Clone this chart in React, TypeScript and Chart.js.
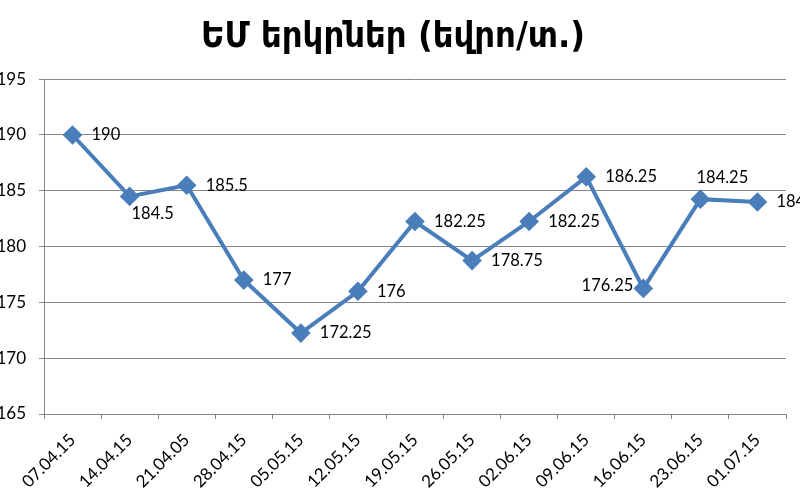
import React, { useEffect, useRef } from "react";
import { Chart, registerables } from "chart.js";

Chart.register(...registerables);

const TITLE = "ԵՄ երկրներ (եվրո/տ.)";
const categories = [
  "07.04.15", "14.04.15", "21.04.05", "28.04.15", "05.05.15", "12.05.15", "19.05.15",
  "26.05.15", "02.06.15", "09.06.15", "16.06.15", "23.06.15", "01.07.15",
];
const prices = [190, 184.5, 185.5, 177, 172.25, 176, 182.25, 178.75, 182.25, 186.25, 176.25, 184.25, 184];
const labelPlacement = [
  "right", "below", "right", "right", "right", "right", "right",
  "right", "right", "right", "left", "above", "right",
];
const yMin = 165;
const yMax = 195;
const yStep = 5;

const LINE_COLOR = "#4A7EBB";
const AXIS_COLOR = "#868686";
const LABEL_FONT = "16.5px Lato";

const PLACEMENTS: Record<string, { dx: number; dy: number; align: CanvasTextAlign }> = {
  right: { dx: 19, dy: 0, align: "left" },
  below: { dx: 23, dy: 17, align: "center" },
  left: { dx: -10, dy: -3, align: "right" },
  above: { dx: 22, dy: -21, align: "center" },
};

const dataLabelPlugin = {
  id: "pointValueLabels",
  afterDatasetsDraw(chart: any) {
    const meta = chart.getDatasetMeta(0);
    const ctx = chart.ctx;
    ctx.save();
    ctx.font = LABEL_FONT;
    ctx.fillStyle = "#000";
    ctx.textBaseline = "middle";
    meta.data.forEach((pt: any, i: number) => {
      const p = PLACEMENTS[labelPlacement[i]] || PLACEMENTS.right;
      ctx.textAlign = p.align;
      ctx.fillText(String(prices[i]), pt.x + p.dx, pt.y + p.dy);
    });
    ctx.restore();
  },
};

export default function App() {
  const ref = useRef<HTMLCanvasElement | null>(null);

  useEffect(() => {
    document.body.style.margin = "0";
    if (!ref.current) return;
    const chart = new Chart(ref.current, {
      type: "line",
      data: {
        labels: categories,
        datasets: [
          {
            data: prices,
            borderColor: LINE_COLOR,
            backgroundColor: LINE_COLOR,
            borderWidth: 4,
            pointStyle: "rectRot",
            pointRadius: 7,
            pointHoverRadius: 7,
            pointBackgroundColor: LINE_COLOR,
            pointBorderColor: LINE_COLOR,
            tension: 0,
            fill: false,
          },
        ],
      },
      options: {
        animation: false,
        responsive: true,
        maintainAspectRatio: false,
        devicePixelRatio: 1,
        layout: { padding: { left: 0, right: 14, top: 0, bottom: 0 } },
        plugins: {
          legend: { display: false },
          tooltip: { enabled: false },
          title: {
            display: true,
            text: TITLE,
            color: "#000",
            font: { family: "'DejaVu Sans Condensed', 'DejaVu Sans'", weight: "bold", size: 36 },
            padding: { top: 16, bottom: 20 },
          },
        },
        scales: {
          x: {
            type: "category",
            offset: true,
            afterFit: (s: any) => { s.height = 90; },
            grid: {
              display: true,
              offset: true,
              drawOnChartArea: false,
              drawTicks: true,
              tickLength: 5,
              color: AXIS_COLOR,
            },
            border: { display: true, color: AXIS_COLOR, width: 1 },
            ticks: {
              color: "#000",
              font: { family: "Lato", size: 17 },
              maxRotation: 45,
              minRotation: 45,
              autoSkip: false,
              padding: 11,
            },
          },
          y: {
            min: yMin,
            max: yMax,
            afterFit: (s: any) => { s.width = 44; },
            grid: {
              color: AXIS_COLOR,
              lineWidth: 1,
              drawTicks: true,
              tickLength: 5,
            },
            border: { display: true, color: AXIS_COLOR, width: 1 },
            ticks: {
              stepSize: yStep,
              color: "#000",
              font: { family: "Lato", size: 17 },
              padding: 13,
            },
          },
        },
      },
      plugins: [dataLabelPlugin],
    });
    return () => chart.destroy();
  }, []);

  return (
    <div style={{ position: "fixed", left: 0, top: 0, width: 800, height: 504 }}>
      <canvas ref={ref} />
    </div>
  );
}
